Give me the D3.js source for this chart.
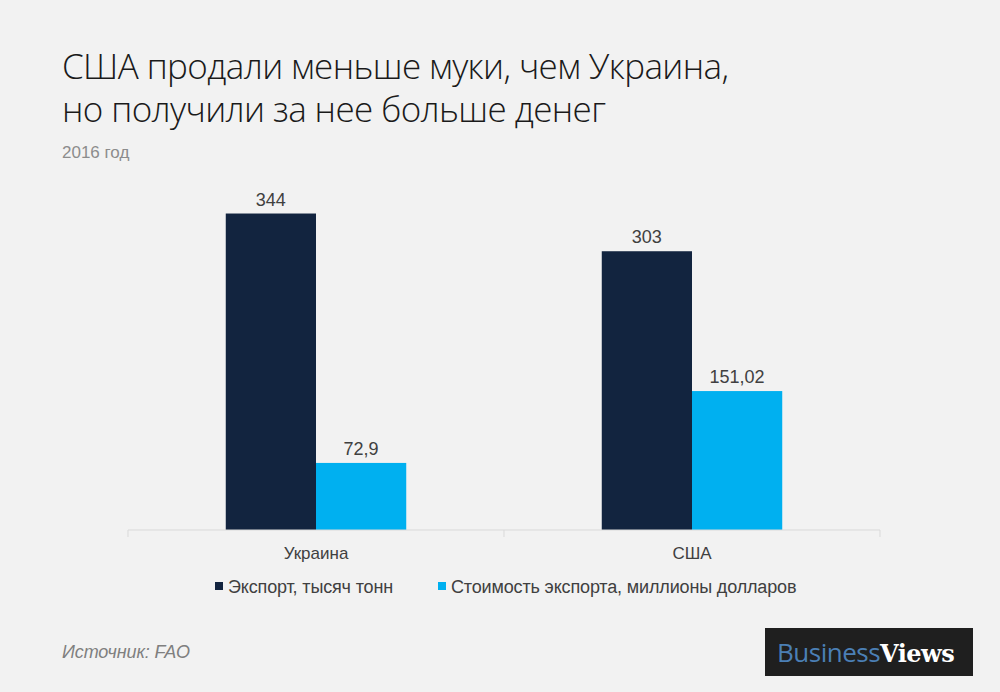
<!DOCTYPE html>
<html><head><meta charset="utf-8">
<script src="https://cdn.jsdelivr.net/npm/d3@7"></script>
<style>
html,body{margin:0;padding:0;background:#f2f2f2;}
svg{display:block;}
</style></head>
<body>
<svg id="chart" width="1000" height="692"></svg>
<script>
const categories = ["Украина", "США"];
const seriesNames = ["Экспорт, тысяч тонн", "Стоимость экспорта, миллионы долларов"];
const exportTons = [344, 303];
const exportValue = [72.9, 151.02];
const valueLabels = [["344", "72,9"], ["303", "151,02"]];
const colors = ["#12243f", "#00b0f0"];

const svg = d3.select("#chart");
svg.append("rect").attr("width", 1000).attr("height", 692).attr("fill", "#f2f2f2");

// Title
const title = svg.append("text").attr("x", 62).attr("font-family", "'Open Sans', 'Noto Sans', sans-serif")
  .attr("font-weight", 300).attr("font-size", 35).attr("letter-spacing", -0.6).attr("fill", "#1a1a1a");
title.append("tspan").attr("x", 62).attr("y", 79).text("США продали меньше муки, чем Украина,");
title.append("tspan").attr("x", 62).attr("y", 122).text("но получили за нее больше денег");
svg.append("text").attr("x", 62).attr("y", 158).attr("font-family", "'Liberation Sans', Arial, sans-serif")
  .attr("font-size", 17).attr("fill", "#8c8c8c").text("2016 год");

const left = 128, right = 880, base = 530;
const x0 = d3.scaleBand().domain(categories).range([left, right]).paddingInner(0).paddingOuter(0);
const bw = x0.bandwidth();
const x1 = d3.scaleBand().domain([0, 1]).range([bw * 0.26, bw * 0.74]).paddingInner(0).paddingOuter(0);
const y = d3.scaleLinear().domain([0, 400]).range([base, base - 368]);

const data = categories.map((c, i) => ({cat: c, vals: [exportTons[i], exportValue[i]], labels: valueLabels[i]}));

const g = svg.append("g");
data.forEach(d => {
  d.vals.forEach((v, j) => {
    const bx = x0(d.cat) + x1(j);
    g.append("rect").attr("x", bx).attr("y", y(v)).attr("width", x1.bandwidth())
      .attr("height", y(0) - y(v)).attr("fill", colors[j]);
    g.append("text").attr("x", bx + x1.bandwidth() / 2).attr("y", y(v) - 8)
      .attr("text-anchor", "middle").attr("font-family", "'Liberation Sans', Arial, sans-serif")
      .attr("font-size", 18).attr("fill", "#404040").text(d.labels[j]);
  });
});

// Axis
const axis = d3.axisBottom(x0).tickSize(0).tickPadding(0);
const ax = svg.append("g").attr("transform", `translate(0,${base})`).call(axis);
ax.select(".domain").attr("stroke", "#d9d9d9").attr("d", `M${left},0H${right}`);
ax.selectAll(".tick text").attr("y", 29).attr("dy", 0).attr("font-family", "'Liberation Sans', Arial, sans-serif")
  .attr("font-size", 17).attr("fill", "#404040");
[left, left + x0.step(), right].forEach(t => {
  ax.append("line").attr("x1", t).attr("x2", t).attr("y1", 0).attr("y2", 7).attr("stroke", "#d9d9d9");
});

// Legend
const legX = [215, 438];
seriesNames.forEach((s, j) => {
  svg.append("rect").attr("x", legX[j]).attr("y", 582).attr("width", 8).attr("height", 8).attr("fill", colors[j]);
  svg.append("text").attr("x", legX[j] + 13).attr("y", 592.5)
    .attr("font-family", "'Liberation Sans', Arial, sans-serif")
    .attr("font-size", 18).attr("letter-spacing", -0.15).attr("fill", "#404040").text(s);
});

// Source
svg.append("text").attr("x", 62).attr("y", 658).attr("font-family", "'Liberation Sans', Arial, sans-serif")
  .attr("font-style", "italic").attr("font-size", 18).attr("fill", "#7f7f7f").attr("letter-spacing", -0.1).text("Источник: FAO");

// Logo
svg.append("rect").attr("x", 765).attr("y", 628).attr("width", 208).attr("height", 48).attr("fill", "#1f1f1f");
const logo = svg.append("text").attr("x", 777).attr("y", 662).attr("font-size", 26);
logo.append("tspan").attr("font-family", "'Open Sans', sans-serif").attr("font-weight", 400).attr("fill", "#4b7fb5").attr("letter-spacing", -0.5).text("Business");
logo.append("tspan").attr("font-family", "'DejaVu Serif', serif").attr("font-weight", "bold").attr("fill", "#ffffff").attr("font-size", 24).attr("letter-spacing", -0.5).text("Views");
</script>
</body></html>
